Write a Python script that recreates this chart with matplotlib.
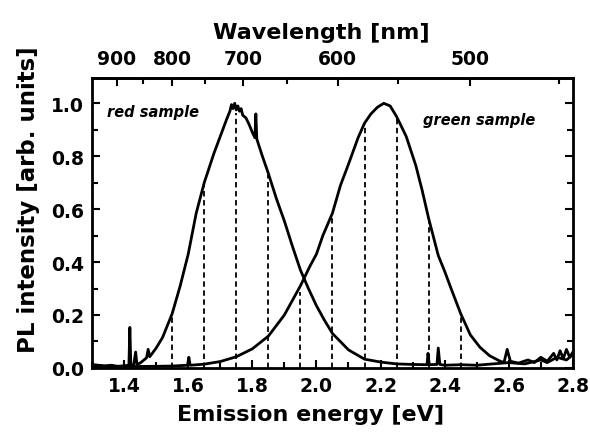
import numpy as np
import matplotlib
matplotlib.use("Agg")
import matplotlib.pyplot as plt
from matplotlib.ticker import MultipleLocator, FormatStrFormatter

plt.rcParams['font.family'] = ['DejaVu Sans']
plt.rcParams['font.weight'] = 'bold'

# PL spectra (energy in eV, normalised intensity)
red_energy = [1.300, 1.305, 1.320, 1.340, 1.360, 1.380, 1.400, 1.415, 1.418, 1.421,
              1.430, 1.436, 1.440, 1.450, 1.460, 1.470, 1.475, 1.480, 1.500, 1.520,
              1.550, 1.575, 1.600, 1.625, 1.650, 1.680, 1.700, 1.720, 1.730, 1.735,
              1.740, 1.745, 1.750, 1.755, 1.760, 1.765, 1.770, 1.780, 1.790, 1.800,
              1.808, 1.811, 1.814, 1.830, 1.850, 1.875, 1.900, 1.925, 1.950, 1.975,
              2.000, 2.025, 2.050, 2.100, 2.150, 2.200, 2.250, 2.300, 2.345, 2.348,
              2.352, 2.376, 2.380, 2.385, 2.400, 2.450, 2.500, 2.550, 2.600, 2.650,
              2.700, 2.720, 2.750, 2.780, 2.800]
red_pl = [0.020, 0.012, 0.010, 0.008, 0.010, 0.006, 0.008, 0.010, 0.153, 0.010,
          0.012, 0.060, 0.014, 0.018, 0.028, 0.038, 0.070, 0.042, 0.075, 0.115,
          0.205, 0.310, 0.430, 0.585, 0.700, 0.810, 0.875, 0.940, 0.970, 0.995,
          0.980, 1.000, 0.975, 0.990, 0.970, 0.980, 0.955, 0.945, 0.920, 0.890,
          0.870, 0.960, 0.865, 0.805, 0.735, 0.640, 0.555, 0.460, 0.370, 0.300,
          0.235, 0.180, 0.130, 0.068, 0.033, 0.022, 0.015, 0.013, 0.012, 0.055,
          0.012, 0.013, 0.075, 0.013, 0.010, 0.012, 0.010, 0.015, 0.020, 0.015,
          0.030, 0.020, 0.040, 0.030, 0.050]

green_energy = [1.300, 1.400, 1.500, 1.550, 1.598, 1.602, 1.606, 1.650, 1.700, 1.750,
                1.800, 1.850, 1.900, 1.950, 1.980, 2.000, 2.020, 2.050, 2.075, 2.100,
                2.130, 2.150, 2.170, 2.190, 2.210, 2.220, 2.230, 2.250, 2.280, 2.310,
                2.330, 2.350, 2.380, 2.400, 2.420, 2.450, 2.480, 2.510, 2.540, 2.570,
                2.585, 2.595, 2.605, 2.630, 2.660, 2.680, 2.700, 2.720, 2.740, 2.750,
                2.760, 2.770, 2.780, 2.790, 2.800]
green_pl = [0.004, 0.005, 0.006, 0.007, 0.010, 0.040, 0.010, 0.014, 0.024, 0.042,
            0.072, 0.120, 0.200, 0.310, 0.385, 0.430, 0.500, 0.585, 0.690, 0.770,
            0.870, 0.925, 0.960, 0.985, 1.000, 0.995, 0.990, 0.950, 0.875, 0.765,
            0.670, 0.565, 0.425, 0.365, 0.300, 0.205, 0.125, 0.078, 0.046, 0.027,
            0.020, 0.070, 0.025, 0.018, 0.030, 0.020, 0.040, 0.025, 0.055, 0.030,
            0.065, 0.035, 0.070, 0.040, 0.060]

# dashed guide lines (energy, height)
guide_energy = [1.55, 1.65, 1.75, 1.85, 1.95, 2.05, 2.15, 2.25, 2.35, 2.45]
guide_top = [0.195, 0.69, 0.965, 0.73, 0.285, 0.565, 0.925, 0.95, 0.56, 0.205]

wl_major = [900, 800, 700, 600, 500]
wl_minor = [850, 750, 650, 550, 450]

HC = 1239.84  # eV nm

fig = plt.figure(figsize=(5.9, 4.35), dpi=100)
ax = fig.add_axes([0.156, 0.152, 0.815, 0.666])

ax.plot(red_energy, red_pl, color='black', lw=2.0)
ax.plot(green_energy, green_pl, color='black', lw=2.0)
ax.vlines(guide_energy, 0, guide_top, colors='black', linestyles=(0, (3, 2)), lw=1.3)

ax.set_xlim(1.3, 2.8)
ax.set_ylim(0, 1.095)
ax.xaxis.set_major_locator(MultipleLocator(0.2))
ax.xaxis.set_minor_locator(MultipleLocator(0.1))
ax.yaxis.set_major_locator(MultipleLocator(0.2))
ax.yaxis.set_minor_locator(MultipleLocator(0.1))
ax.xaxis.set_major_formatter(FormatStrFormatter('%.1f'))
ax.yaxis.set_major_formatter(FormatStrFormatter('%.1f'))
ax.tick_params(which='both', direction='in', top=False, right=True, width=1.5, labelsize=13.5, pad=6)
ax.tick_params(which='major', length=6)
ax.tick_params(which='minor', length=4)
for s in ax.spines.values():
    s.set_linewidth(2)

sec = ax.secondary_xaxis('top', functions=(lambda e: HC / e, lambda w: HC / w))
sec.set_xticks(wl_major)
sec.set_xticks(wl_minor, minor=True)
sec.tick_params(which='both', direction='in', width=1.5, labelsize=13.5, pad=7)
sec.tick_params(which='major', length=6)
sec.tick_params(which='minor', length=4)
sec.spines['top'].set_linewidth(2)
sec.set_xlabel('Wavelength [nm]', fontsize=16, fontweight='bold', labelpad=8)
sec.xaxis.label.set_x(0.476)

ax.set_xlabel('Emission energy [eV]', fontsize=16, fontweight='bold', labelpad=6)
ax.xaxis.label.set_x(0.455)
ax.set_ylabel('PL intensity [arb. units]', fontsize=16.5, fontweight='bold', labelpad=8)
ax.yaxis.label.set_y(0.583)

ax.text(1.347, 0.97, 'red sample', fontsize=10.5, fontstyle='italic', fontweight='bold', va='center')
ax.text(2.332, 0.94, 'green sample', fontsize=10.5, fontstyle='italic', fontweight='bold', va='center')

fig.savefig('out.png', dpi=100)
